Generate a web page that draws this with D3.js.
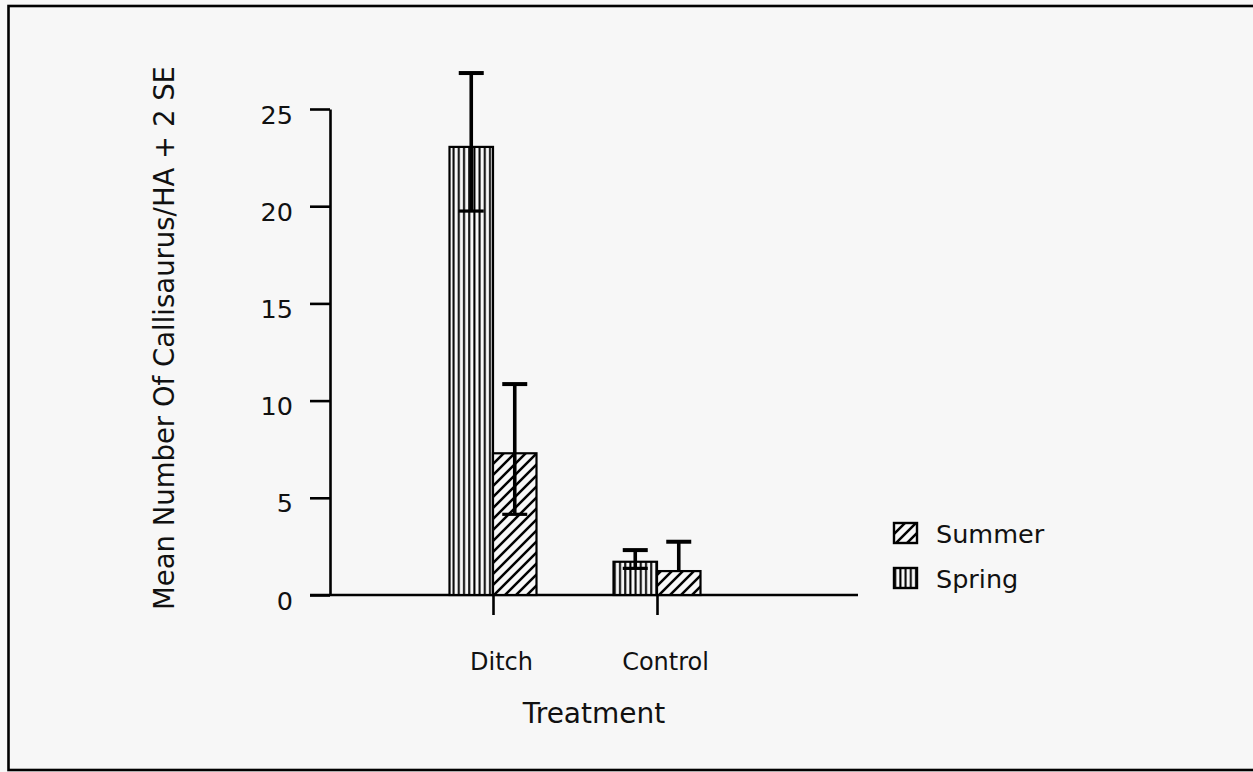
<!DOCTYPE html>
<html>
<head>
<meta charset="utf-8">
<script src="https://cdn.jsdelivr.net/npm/d3@7"></script>
<style>
  html, body { margin: 0; padding: 0; background: #f7f7f7; }
  svg { display: block; }
  text { font-family: "DejaVu Sans", sans-serif; fill: #111; }
</style>
</head>
<body>
<svg id="chart" width="1253" height="772"></svg>
<script>
// Treatment groups and seasons
const treatments = ["Ditch", "Control"];
const seasons = ["Spring", "Summer"];

// Mean number of Callisaurus per hectare, by season, in treatment order
const springMean = [23.05, 1.71];
const summerMean = [7.29, 1.23];

// Error bar ends (+/- 2 SE); null = lower whisker not drawn
const springLow = [19.75, 1.37];
const springHigh = [26.85, 2.31];
const summerLow = [4.15, null];
const summerHigh = [10.85, 2.74];

const yTicks = [0, 5, 10, 15, 20, 25];
const legendOrder = ["Summer", "Spring"];

const svg = d3.select("#chart");

// Outer frame
svg.append("rect")
  .attr("x", 8.5).attr("y", 6)
  .attr("width", 1270).attr("height", 764)
  .attr("fill", "#f7f7f7")
  .attr("stroke", "#000").attr("stroke-width", 2.6);

// Hatch fills
const defs = svg.append("defs");
const vert = defs.append("pattern")
  .attr("id", "hatch-vert")
  .attr("patternUnits", "userSpaceOnUse")
  .attr("width", 5.2).attr("height", 10);
vert.append("rect").attr("width", 5.2).attr("height", 10).attr("fill", "#f7f7f7");
vert.append("line").attr("x1", 1.2).attr("x2", 1.2).attr("y1", 0).attr("y2", 10)
  .attr("stroke", "#000").attr("stroke-width", 2);

const diag = defs.append("pattern")
  .attr("id", "hatch-diag")
  .attr("patternUnits", "userSpaceOnUse")
  .attr("width", 11).attr("height", 11);
diag.append("rect").attr("width", 11).attr("height", 11).attr("fill", "#f7f7f7");
diag.append("path")
  .attr("d", "M-2,13 L13,-2 M-2,2 L2,-2 M9,13 L13,9")
  .attr("stroke", "#000").attr("stroke-width", 2.5);

const fillFor = { Spring: "url(#hatch-vert)", Summer: "url(#hatch-diag)" };

// Scales
const y = d3.scaleLinear().domain([0, 25]).range([595, 109]);
const x = d3.scalePoint().domain(treatments).range([411, 739]).padding(0.5);
const xs = d3.scaleBand().domain(seasons).range([-43.5, 43.5]).padding(0);

// Axes lines
svg.append("line")
  .attr("x1", 310).attr("x2", 858)
  .attr("y1", y(0)).attr("y2", y(0))
  .attr("stroke", "#000").attr("stroke-width", 2.6);

const yAxis = d3.axisLeft(y).tickValues(yTicks).tickSize(20).tickSizeOuter(0).tickFormat(d3.format("d"));
const yg = svg.append("g").attr("transform", "translate(330,0)").call(yAxis);
yg.select(".domain").attr("stroke", "#000").attr("stroke-width", 2.6);
yg.selectAll(".tick line").attr("stroke", "#000").attr("stroke-width", 2.6);
yg.selectAll(".tick text")
  .attr("x", -37).attr("dy", "0.55em")
  .style("font-size", "25.5px").attr("fill", "#111");

const xAxis = d3.axisBottom(x).tickSize(20).tickSizeOuter(0);
const xg = svg.append("g").attr("transform", `translate(0,${y(0)})`).call(xAxis);
xg.select(".domain").remove();
xg.selectAll(".tick line").attr("stroke", "#000").attr("stroke-width", 2.6);
xg.selectAll(".tick text")
  .attr("x", 8).attr("y", 75).attr("dy", 0)
  .style("font-size", "24px").attr("fill", "#111");

// Data rows
const rows = [];
treatments.forEach((t, i) => {
  rows.push({ t, s: "Spring", v: springMean[i], lo: springLow[i], hi: springHigh[i] });
  rows.push({ t, s: "Summer", v: summerMean[i], lo: summerLow[i], hi: summerHigh[i] });
});

// Bars
svg.append("g").selectAll("rect")
  .data(rows).join("rect")
  .attr("x", d => x(d.t) + xs(d.s))
  .attr("y", d => y(d.v))
  .attr("width", xs.bandwidth())
  .attr("height", d => y(0) - y(d.v))
  .attr("fill", d => fillFor[d.s])
  .attr("stroke", "#000").attr("stroke-width", 2.2);

// Error bars
const eb = svg.append("g").selectAll("g").data(rows).join("g")
  .attr("transform", d => `translate(${x(d.t) + xs(d.s) + xs.bandwidth() / 2},0)`);
eb.append("line")
  .attr("x1", 0).attr("x2", 0)
  .attr("y1", d => y(d.hi))
  .attr("y2", d => y(d.lo == null ? d.v : d.lo))
  .attr("stroke", "#000").attr("stroke-width", 3.6);
eb.append("line")
  .attr("x1", -12.5).attr("x2", 12.5)
  .attr("y1", d => y(d.hi)).attr("y2", d => y(d.hi))
  .attr("stroke", "#000").attr("stroke-width", 4);
eb.filter(d => d.lo != null).append("line")
  .attr("x1", -12.5).attr("x2", 12.5)
  .attr("y1", d => y(d.lo)).attr("y2", d => y(d.lo))
  .attr("stroke", "#000").attr("stroke-width", 3.2);

// Axis titles
svg.append("text")
  .attr("transform", "translate(174,338) rotate(-90)")
  .attr("text-anchor", "middle")
  .style("font-size", "27.5px")
  .text("Mean Number Of Callisaurus/HA + 2 SE");

svg.append("text")
  .attr("x", 594).attr("y", 723)
  .attr("text-anchor", "middle")
  .style("font-size", "28px")
  .text("Treatment");

// Legend
const lg = svg.append("g").selectAll("g").data(legendOrder).join("g")
  .attr("transform", (d, i) => `translate(894,${523 + i * 45})`);
lg.append("rect")
  .attr("width", 23).attr("height", 20)
  .attr("fill", d => fillFor[d])
  .attr("stroke", "#000").attr("stroke-width", 2.4);
lg.append("text")
  .attr("x", 42).attr("y", 20)
  .style("font-size", "25.5px")
  .text(d => d);
</script>
</body>
</html>
